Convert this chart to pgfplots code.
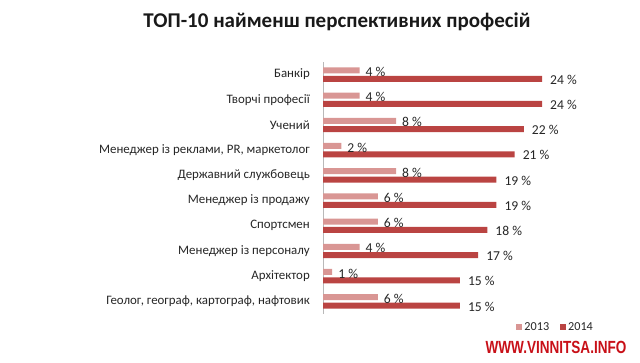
\documentclass[border=0pt]{standalone}
\usepackage{graphicx}
\usepackage{pgfplots}
\pgfplotsset{compat=1.18}
\usepackage{fontspec}
\setmainfont{Carlito}
\newfontfamily\wmfont{Liberation Sans}
\definecolor{c13}{RGB}{217,150,148}
\definecolor{c14}{RGB}{186,68,66}
\definecolor{wm}{RGB}{200,16,24}
\begin{document}
\begin{tikzpicture}[x=1pt,y=1pt]
\useasboundingbox (0,0) rectangle (640,363);
\node[font=\fontsize{21}{24}\selectfont\bfseries, text=black!90] at (337,341) {ТОП-10 найменш перспективних професій};
\begin{axis}[
 at={(323pt,49pt)}, anchor=south west,
 scale only axis, width=273.75pt, height=252pt,
 xmin=0, xmax=30, ymin=-0.5, ymax=9.5,
 xbar, bar width=6pt,
 axis x line=none, axis y line*=left,
 y axis line style={gray!55, line width=0.8pt},
 ytick={0,...,9},
 yticklabels={{Геолог, географ, картограф, нафтовик}, Архітектор, Менеджер із персоналу, Спортсмен, Менеджер із продажу, Державний службовець, {Менеджер із реклами, PR, маркетолог}, Учений, Творчі професії, Банкір},
 major tick length=0pt,
 yticklabel style={font=\fontsize{12.9}{15}\selectfont, text=black!85, inner sep=0pt, xshift=-13pt},
 clip=false,
 point meta=x,
 nodes near coords={\fontsize{13.6}{16}\selectfont\pgfmathprintnumber{\pgfplotspointmeta}~\%},
 nodes near coords style={text=black!85, anchor=west, inner sep=0pt},
 /pgf/number format/assume math mode=true,
 legend style={at={(0.85,-0.052)}, anchor=center, draw=none, legend columns=2, text=black!85, /tikz/every even column/.append style={column sep=9pt}, inner sep=0pt},
 legend image code/.code={\fill[#1] (0pt,-3pt) rectangle (6pt,3pt);},
]
\addplot[fill=c13, draw=none, bar shift=4.2pt, every node near coord/.append style={xshift=6pt, yshift=-1.5pt}] coordinates {(6,0) (1,1) (4,2) (6,3) (6,4) (8,5) (2,6) (8,7) (4,8) (4,9)};
\addlegendentry{\fontsize{12.2}{14}\selectfont 2013}
\addplot[fill=c14, draw=none, bar shift=-4.2pt, every node near coord/.append style={xshift=8pt, yshift=-1pt}] coordinates {(15,0) (15,1) (17,2) (18,3) (19,4) (19,5) (21,6) (22,7) (24,8) (24,9)};
\addlegendentry{\fontsize{12.2}{14}\selectfont 2014}
\end{axis}
\node[font=\fontsize{17.6}{20}\selectfont\wmfont\bfseries, text=wm] at (556,16) {\scalebox{0.77}[1]{WWW.VINNITSA.INFO}};
\end{tikzpicture}
\end{document}
